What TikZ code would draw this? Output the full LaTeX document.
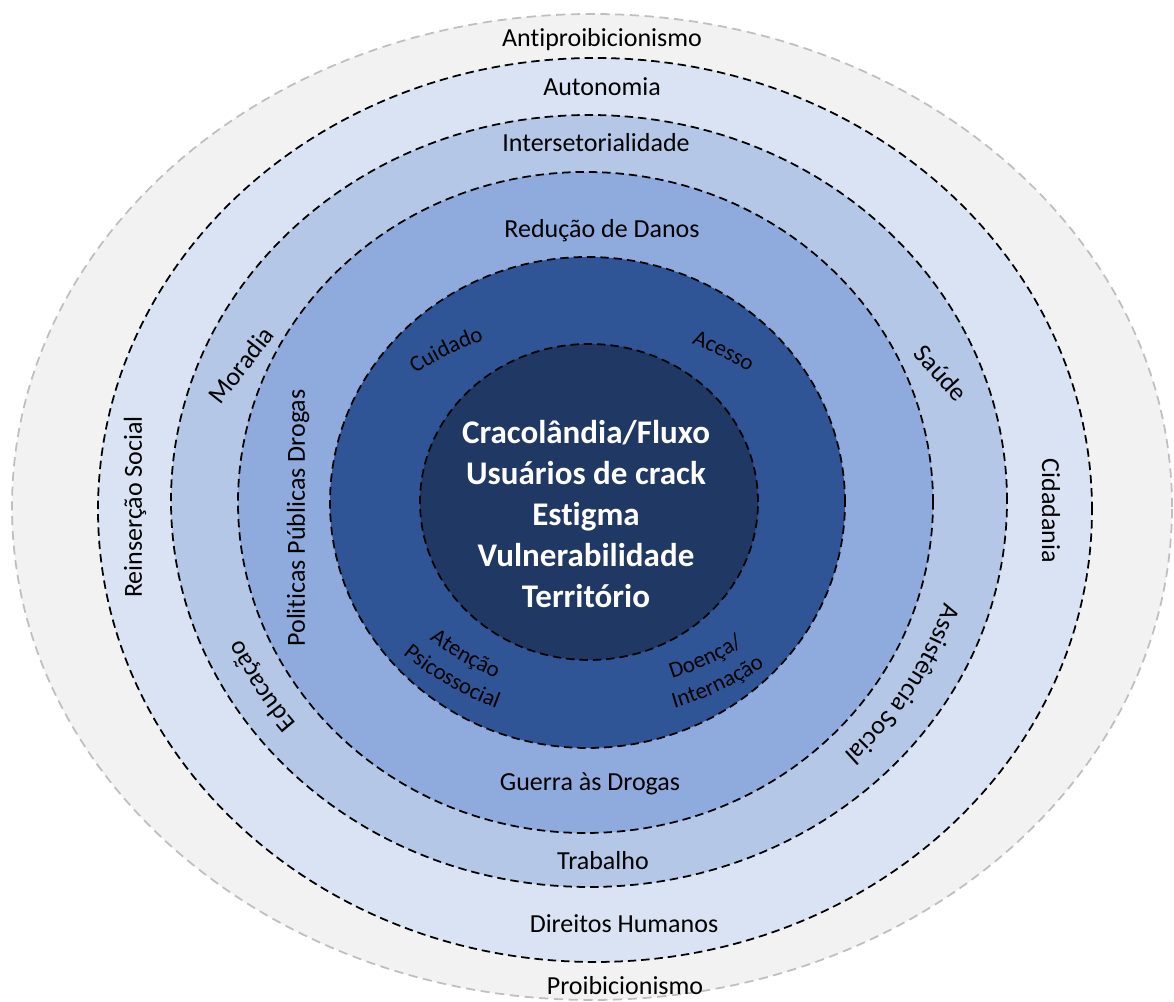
\documentclass[tikz,border=0pt]{standalone}
\usepackage{fontspec}
\setmainfont{Carlito}[Ligatures=NoCommon]
\usepackage{tikz}
\usetikzlibrary{decorations.text}

\definecolor{bandgray}{HTML}{F2F2F2}
\definecolor{edgegray}{HTML}{BFBFBF}
\definecolor{bandone}{HTML}{DAE3F3}
\definecolor{bandtwo}{HTML}{B4C7E7}
\definecolor{bandthree}{HTML}{8FAADC}
\definecolor{bandfour}{HTML}{2F5597}
\definecolor{corefill}{HTML}{203864}

\newcommand\bandfont{\fontsize{7.4}{9}\selectfont}
\newcommand\ringfont{\fontsize{6.5}{8}\selectfont}

\begin{document}
\begin{tikzpicture}[
    ring/.style={draw=black, line width=0.5pt, dash pattern=on 2.4pt off 1.4pt},
    lbl/.style={font=\bandfont, inner sep=0pt},
    arclbl/.style={decorate, decoration={text along path, text align=center, text={#1}}},
  ]
    \useasboundingbox (0,0) rectangle (11.74,10.02);

    % bands, outermost first
    \draw[fill=bandgray, draw=edgegray, line width=0.5pt, dash pattern=on 2.6pt off 1.6pt]
        (5.92,4.95) ellipse [x radius=5.80, y radius=4.93];
    \draw[ring, fill=bandone]   (5.95,4.92)  ellipse [x radius=4.97,  y radius=4.52];
    \draw[ring, fill=bandtwo]   (5.89,5.01)  ellipse [x radius=4.18,  y radius=3.86];
    \draw[ring, fill=bandthree] (5.855,4.995) ellipse [x radius=3.475, y radius=3.305];
    \draw[ring, fill=bandfour]  (5.875,4.995) ellipse [x radius=2.575, y radius=2.455];
    \draw[ring, fill=corefill]  (5.89,5.00)  ellipse [x radius=1.69,  y radius=1.58];

    % top and bottom labels
    \node[lbl] (anti)   at (6.02,9.62) {Antiproibicionismo};
    \node[lbl] (auto)   at (6.02,9.15) {Autonomia};
    \node[lbl] (inter)  at (5.96,8.59) {Intersetorialidade};
    \node[lbl] (reduc)  at (6.02,7.71) {Redução de Danos};
    \node[lbl] (guerra) at (5.90,2.18) {Guerra às Drogas};
    \node[lbl] (trab)   at (6.03,1.41) {Trabalho};
    \node[lbl] (dirh)   at (6.24,0.78) {Direitos Humanos};
    \node[lbl] (proib)  at (6.25,0.16) {Proibicionismo};

    % side labels
    \node[lbl, rotate=90]  (reins)  at (1.35,4.95)  {Reinserção Social};
    \node[lbl, rotate=-90] (cidad)  at (10.51,4.91) {Cidadania};
    \node[lbl, rotate=52]  (morad)  at (2.41,6.37)  {Moradia};
    \node[lbl, rotate=90]  (polit)  at (2.98,4.84)  {Politicas Públicas Drogas};
    \node[lbl, rotate=-48] (saude)  at (9.41,6.29)  {Saúde};
    % curved ones follow the band
    \path[arclbl={|\bandfont|Educação}]
        (5.87,5.00) ++(226:3.75 and 3.50) arc[start angle=226, end angle=196, x radius=3.75, y radius=3.50];
    \path[arclbl={|\bandfont|Assistência Social}]
        (5.87,5.00) ++(-10:3.73 and 3.48) arc[start angle=-10, end angle=-53, x radius=3.73, y radius=3.48];

    % dark ring, flatter arcs
    \path[arclbl={|\ringfont|Cuidado}]
        (5.78,3.82) ++(131:2.95) arc[start angle=131, end angle=101, radius=2.95];
    \path[arclbl={|\ringfont|Acesso}]
        (5.87,3.83) ++(78:2.95) arc[start angle=78, end angle=48, radius=2.95];
    \path[arclbl={|\ringfont|Atenção}]
        (6.14,6.05) ++(225:3.05) arc[start angle=225, end angle=255, radius=3.05];
    \path[arclbl={|\ringfont|Psicossocial}]
        (6.14,6.05) ++(225:3.33) arc[start angle=225, end angle=255, radius=3.33];
    \path[arclbl={|\ringfont|Doença/}]
        (5.80,6.14) ++(280:3.05) arc[start angle=280, end angle=310, radius=3.05];
    \path[arclbl={|\ringfont|Internação}]
        (5.80,6.14) ++(280:3.34) arc[start angle=280, end angle=310, radius=3.34];

    % core
    \node[text=white, align=center, inner sep=0pt,
          font=\bfseries\fontsize{9.4}{11.7}\selectfont] (fluxo) at (5.86,4.88)
        {Cracolândia/Fluxo\\Usuários de crack\\Estigma\\Vulnerabilidade\\Território};
\end{tikzpicture}
\end{document}
